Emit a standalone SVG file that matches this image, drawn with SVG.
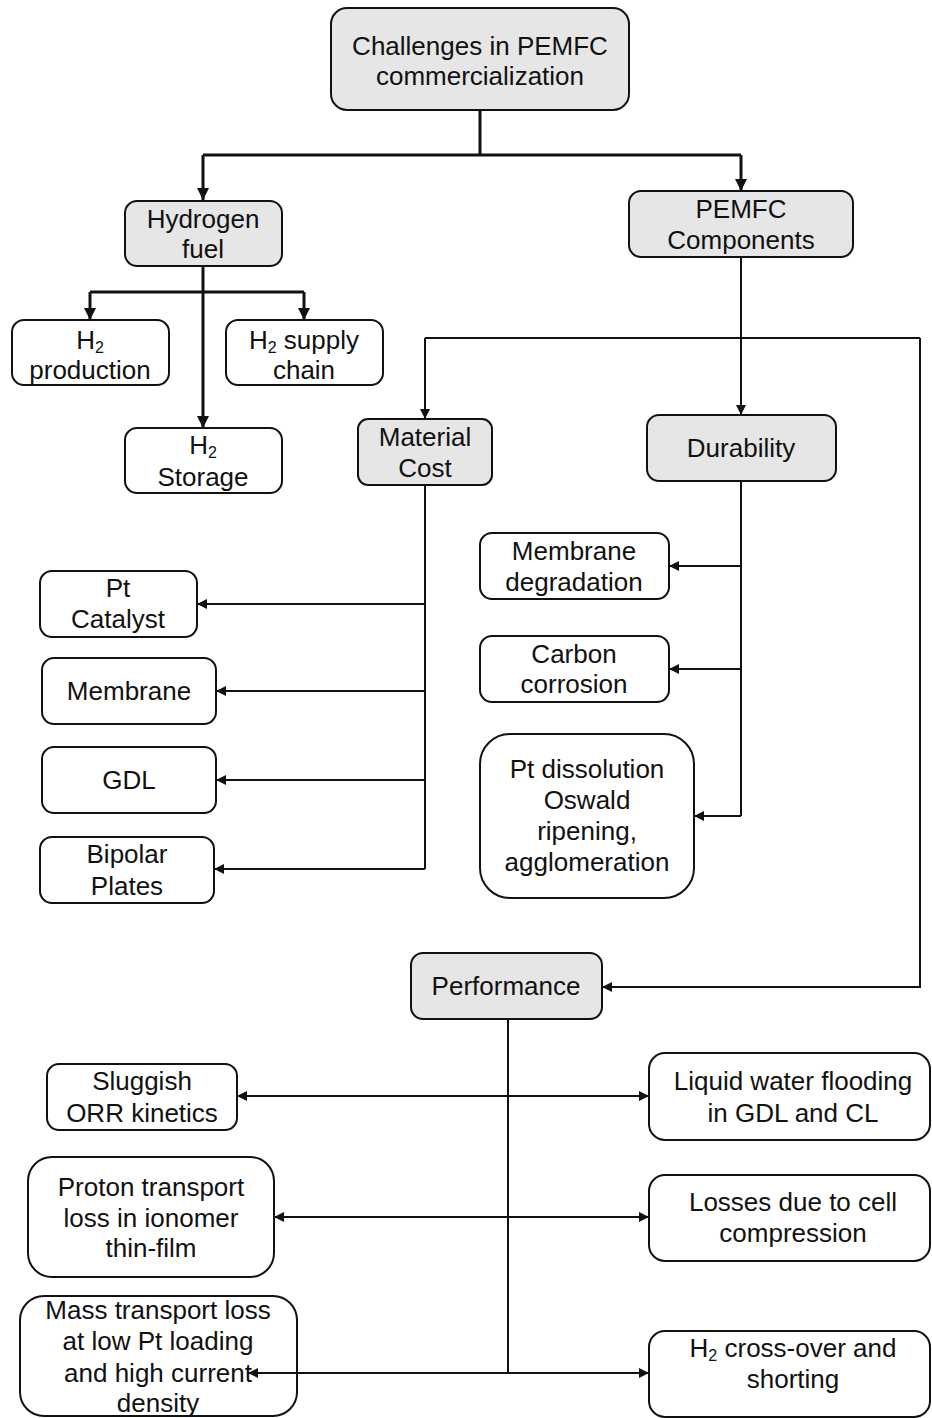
<svg xmlns="http://www.w3.org/2000/svg" width="932" height="1418" viewBox="0 0 932 1418">
<defs>
<style>
.g{fill:#e6e6e6;stroke:#111;stroke-width:2}
.w{fill:#fff;stroke:#111;stroke-width:2}
text{font-family:"Liberation Sans",Arial,sans-serif;font-size:26px;fill:#111;text-anchor:middle}
.sub{font-size:16px}
.c{fill:none;stroke:#111;stroke-width:2}
.ct{fill:none;stroke:#111;stroke-width:3}
</style>
<marker id="a" viewBox="0 0 10 10" refX="10" refY="5" markerWidth="10" markerHeight="10" markerUnits="userSpaceOnUse" orient="auto-start-reverse"><path d="M0,0 L10,5 L0,10 z" fill="#111"/></marker>
<marker id="at" viewBox="0 0 10 10" refX="10" refY="5" markerWidth="12" markerHeight="12" markerUnits="userSpaceOnUse" orient="auto"><path d="M0,0 L10,5 L0,10 z" fill="#111"/></marker>
</defs>
<rect width="932" height="1418" fill="#fff"/>
<g id="n-top"><rect class="g" x="331" y="8" width="298" height="102" rx="16"/><text x="480" y="55">Challenges in PEMFC</text><text x="480" y="85">commercialization</text></g>
<g id="n-hydrogen"><rect class="g" x="125" y="201" width="157" height="65" rx="12"/><text x="203" y="228">Hydrogen</text><text x="203" y="258">fuel</text></g>
<g id="n-components"><rect class="g" x="629" y="191" width="224" height="66" rx="12"/><text x="741" y="218">PEMFC</text><text x="741" y="249">Components</text></g>
<g id="n-h2prod"><rect class="w" x="12" y="320" width="157" height="65" rx="12"/><text x="90" y="349">H<tspan class="sub" dy="4">2</tspan></text><text x="90" y="379">production</text></g>
<g id="n-h2supply"><rect class="w" x="226" y="320" width="157" height="65" rx="12"/><text x="304" y="349">H<tspan class="sub" dy="4">2</tspan><tspan dy="-4"> supply</tspan></text><text x="304" y="379">chain</text></g>
<g id="n-h2storage"><rect class="w" x="125" y="428" width="157" height="65" rx="12"/><text x="203" y="454">H<tspan class="sub" dy="4">2</tspan></text><text x="203" y="486">Storage</text></g>
<g id="n-material"><rect class="g" x="358" y="419" width="134" height="66" rx="10"/><text x="425" y="446">Material</text><text x="425" y="477">Cost</text></g>
<g id="n-durability"><rect class="g" x="647" y="415" width="189" height="66" rx="12"/><text x="741" y="457">Durability</text></g>
<g id="n-pt"><rect class="w" x="40" y="571" width="157" height="66" rx="12"/><text x="118" y="597">Pt</text><text x="118" y="628">Catalyst</text></g>
<g id="n-membrane"><rect class="w" x="42" y="658" width="174" height="66" rx="12"/><text x="129" y="700">Membrane</text></g>
<g id="n-gdl"><rect class="w" x="42" y="747" width="174" height="66" rx="12"/><text x="129" y="789">GDL</text></g>
<g id="n-bipolar"><rect class="w" x="40" y="837" width="174" height="66" rx="12"/><text x="127" y="863">Bipolar</text><text x="127" y="895">Plates</text></g>
<g id="n-memdeg"><rect class="w" x="480" y="533" width="189" height="66" rx="12"/><text x="574" y="560">Membrane</text><text x="574" y="591">degradation</text></g>
<g id="n-carbon"><rect class="w" x="480" y="636" width="189" height="66" rx="12"/><text x="574" y="663">Carbon</text><text x="574" y="693">corrosion</text></g>
<g id="n-ptdiss"><rect class="w" x="480" y="734" width="214" height="164" rx="30"/><text x="587" y="778">Pt dissolution</text><text x="587" y="809">Oswald</text><text x="587" y="840">ripening,</text><text x="587" y="871">agglomeration</text></g>
<g id="n-performance"><rect class="g" x="411" y="953" width="191" height="66" rx="12"/><text x="506" y="995">Performance</text></g>
<g id="n-sluggish"><rect class="w" x="47" y="1064" width="190" height="66" rx="12"/><text x="142" y="1090">Sluggish</text><text x="142" y="1122">ORR kinetics</text></g>
<g id="n-proton"><rect class="w" x="28" y="1157" width="246" height="120" rx="24"/><text x="151" y="1196">Proton transport</text><text x="151" y="1227">loss in ionomer</text><text x="151" y="1257">thin-film</text></g>
<g id="n-mass"><rect class="w" x="20" y="1296" width="277" height="120" rx="24"/><text x="158" y="1319">Mass transport loss</text><text x="158" y="1350">at low Pt loading</text><text x="158" y="1382">and high current</text><text x="158" y="1412">density</text></g>
<g id="n-liquid"><rect class="w" x="649" y="1053" width="281" height="87" rx="16"/><text x="793" y="1090">Liquid water flooding</text><text x="793" y="1122">in GDL and CL</text></g>
<g id="n-losses"><rect class="w" x="649" y="1175" width="281" height="86" rx="16"/><text x="793" y="1211">Losses due to cell</text><text x="793" y="1242">compression</text></g>
<g id="n-h2cross"><rect class="w" x="649" y="1331" width="281" height="86" rx="16"/><text x="793" y="1357">H<tspan class="sub" dy="4">2</tspan><tspan dy="-4"> cross-over and</tspan></text><text x="793" y="1388">shorting</text></g>
<g id="connectors">
<path class="ct" d="M480,110 V155"/>
<path class="ct" d="M203,155 H741"/>
<path class="ct" d="M203,155 V200" marker-end="url(#at)"/>
<path class="ct" d="M741,155 V191" marker-end="url(#at)"/>
<path class="ct" d="M203,266 V428" marker-end="url(#at)"/>
<path class="ct" d="M90,292 H304"/>
<path class="ct" d="M90,292 V320" marker-end="url(#at)"/>
<path class="ct" d="M304,292 V320" marker-end="url(#at)"/>
<path class="c" d="M741,257 V415" marker-end="url(#a)"/>
<path class="c" d="M425,338 H920"/>
<path class="c" d="M425,338 V419" marker-end="url(#a)"/>
<path class="c" d="M920,338 V987 H602" marker-end="url(#a)"/>
<path class="c" d="M425,485 V869"/>
<path class="c" d="M425,604 H197" marker-end="url(#a)"/>
<path class="c" d="M425,691 H216" marker-end="url(#a)"/>
<path class="c" d="M425,780 H216" marker-end="url(#a)"/>
<path class="c" d="M425,869 H214" marker-end="url(#a)"/>
<path class="c" d="M741,481 V816"/>
<path class="c" d="M741,566 H669" marker-end="url(#a)"/>
<path class="c" d="M741,669 H669" marker-end="url(#a)"/>
<path class="c" d="M741,816 H694" marker-end="url(#a)"/>
<path class="c" d="M508,1019 V1373"/>
<path class="c" d="M237,1096 H649" marker-start="url(#a)" marker-end="url(#a)"/>
<path class="c" d="M274,1217 H649" marker-start="url(#a)" marker-end="url(#a)"/>
<path class="c" d="M248,1373 H649" marker-start="url(#a)" marker-end="url(#a)"/>
</g>
</svg>
